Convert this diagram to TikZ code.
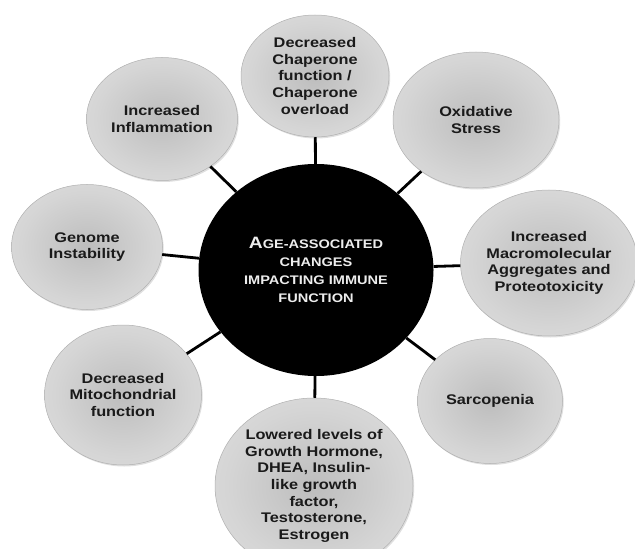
\documentclass[tikz,border=0pt]{standalone}
\usepackage{fontspec}
\setmainfont[FakeStretch=1.17]{Liberation Sans}
\usepackage{tikz}
\usetikzlibrary{shapes.geometric,shadows}
\definecolor{BubbleEdge}{HTML}{E6E6E6}
\definecolor{BubbleMid}{HTML}{D5D5D5}
\definecolor{BubbleCore}{HTML}{BDBDBD}
\definecolor{BubbleRim}{HTML}{B0B0B0}
\definecolor{BubbleText}{HTML}{1A1A1A}
\definecolor{HubText}{HTML}{EDEDED}
\pgfdeclareradialshading{bubbleshade}{\pgfpoint{0bp}{0bp}}{color(0bp)=(BubbleCore); color(22bp)=(BubbleMid); color(45bp)=(BubbleEdge); color(50bp)=(BubbleEdge)}
\newcommand{\hubcap}[1]{{\fontsize{16.5}{18.3}\selectfont #1}}
\tikzset{
  agehub/.style={ellipse, fill=black, align=center, inner sep=0pt, text=HubText, font=\fontsize{12.5}{18.3}\selectfont\bfseries},
  agebubble/.style={ellipse, draw=BubbleRim, line width=0.5bp, shading=bubbleshade, drop shadow={shadow xshift=1.2bp, shadow yshift=-1.5bp, opacity=0.25}, align=center, inner sep=0pt, text=BubbleText, font=\fontsize{14}{16.7}\selectfont\bfseries},
  agelink/.style={line width=2.8bp, draw=black}
}
\begin{document}
\begin{tikzpicture}[x=1bp, y=-1bp]
  \useasboundingbox (0,0) rectangle (635,549);
  \node[agehub, minimum width=235bp, minimum height=212bp] (hub) at (316,270) {\hubcap{A}GE-ASSOCIATED\\CHANGES\\IMPACTING IMMUNE\\FUNCTION};
  \node[agebubble, minimum width=148bp, minimum height=122bp] (chap) at (315,76) {Decreased\\Chaperone\\function /\\Chaperone\\overload};
  \node[agebubble, minimum width=166bp, minimum height=136bp] (oxid) at (476,120) {Oxidative\\Stress};
  \node[agebubble, minimum width=172bp, minimum height=146bp] (macro) at (549,263) {Increased\\Macromolecular\\Aggregates and\\Proteotoxicity};
  \node[agebubble, minimum width=145bp, minimum height=125bp] (sarco) at (490,401) {Sarcopenia};
  \node[agebubble, minimum width=198bp, minimum height=176bp] (horm) at (314,486) {Lowered levels of\\Growth Hormone,\\DHEA, Insulin-\\like growth\\factor,\\Testosterone,\\Estrogen};
  \node[agebubble, minimum width=157bp, minimum height=140bp] (mito) at (123,395) {Decreased\\Mitochondrial\\function};
  \node[agebubble, minimum width=151bp, minimum height=125bp] (geno) at (87,247) {Genome\\Instability};
  \node[agebubble, minimum width=151bp, minimum height=123bp] (infl) at (162,119) {Increased\\Inflammation};
  \draw[agelink] (hub) -- (chap);
  \draw[agelink] (hub) -- (oxid);
  \draw[agelink] (hub) -- (macro);
  \draw[agelink] (hub) -- (sarco);
  \draw[agelink] (hub) -- (horm);
  \draw[agelink] (hub) -- (mito);
  \draw[agelink] (hub) -- (geno);
  \draw[agelink] (hub) -- (infl);
\end{tikzpicture}
\end{document}
